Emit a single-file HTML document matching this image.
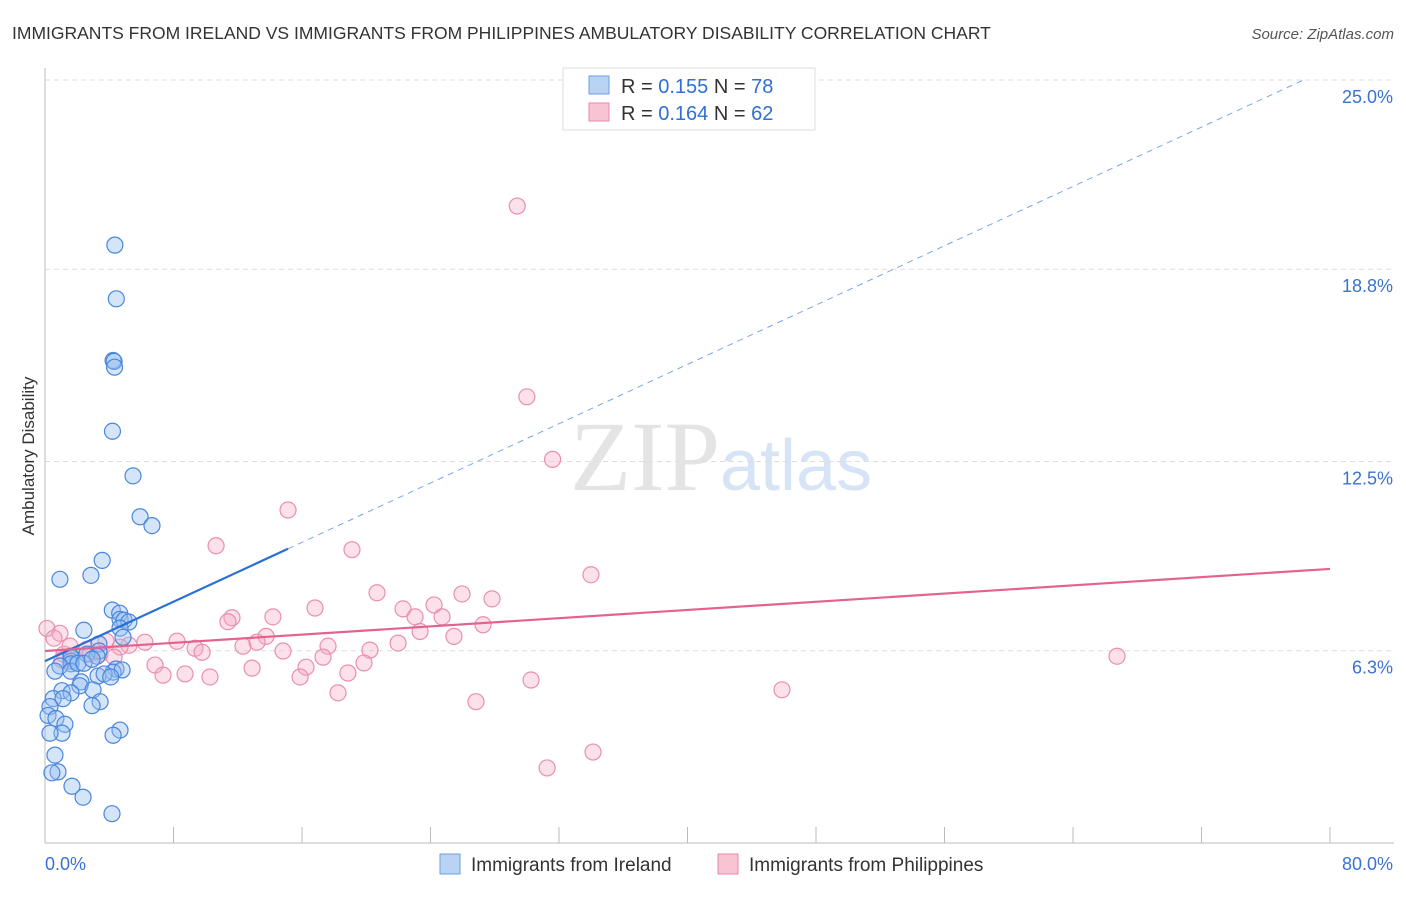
<!DOCTYPE html>
<html><head><meta charset="utf-8"><style>
body{margin:0;background:#fff;font-family:"Liberation Sans",sans-serif}
</style></head><body>
<svg id="c" width="1406" height="892" xmlns="http://www.w3.org/2000/svg">
<text x="12" y="39" font-size="17.5" fill="#333">IMMIGRANTS FROM IRELAND VS IMMIGRANTS FROM PHILIPPINES AMBULATORY DISABILITY CORRELATION CHART</text>
<text x="1394" y="39" font-size="15" fill="#555" font-style="italic" text-anchor="end">Source: ZipAtlas.com</text>
<text x="720" y="490" font-size="100" fill="#e4e4e4" text-anchor="end" font-family="Liberation Serif">ZIP</text>
<text x="720" y="490" font-size="72" fill="#d6e4f5">atlas</text>
<text transform="translate(34,456) rotate(-90)" font-size="17" fill="#333" text-anchor="middle">Ambulatory Disability</text>
<g id="grid"></g><g id="pts"></g><g id="lines"></g>
<g>
<rect x="563" y="68" width="252" height="62" fill="#fff" stroke="#ddd"/>
<rect x="589" y="76" width="20" height="18" fill="#b9d3f5" stroke="#6a9fe0"/>
<rect x="589" y="103" width="20" height="18" fill="#f8c3d3" stroke="#e88aa8"/>
<text x="621" y="93" font-size="20" fill="#333">R = <tspan fill="#2f6fd6">0.155</tspan>   N = <tspan fill="#2f6fd6">78</tspan></text>
<text x="621" y="120" font-size="20" fill="#333">R = <tspan fill="#2f6fd6">0.164</tspan>   N = <tspan fill="#2f6fd6">62</tspan></text>
</g>
<g>
<rect x="440" y="854" width="20" height="20" fill="#b9d3f5" stroke="#6a9fe0"/>
<text x="471" y="871" font-size="19" fill="#333">Immigrants from Ireland</text>
<rect x="718" y="854" width="20" height="20" fill="#f8c3d3" stroke="#e88aa8"/>
<text x="749" y="871" font-size="19" fill="#333">Immigrants from Philippines</text>
</g>
</svg>
<script>
const yTicks=[25.0,18.8,12.5,6.3];
const yTickLabels=["25.0%","18.8%","12.5%","6.3%"];
const xTickCount=10;
const blueX=[4.35,4.44,4.24,4.3,4.33,4.2,5.48,5.92,6.66,3.56,2.86,0.93,4.19,4.65,4.67,4.92,5.22,4.67,2.42,4.86,3.36,3.36,2.61,1.62,1.62,1.61,1.62,0.93,4.42,4.24,3.3,4.8,3.68,1.6,4.09,2.24,2.17,2.99,1.06,1.62,0.51,1.12,3.43,2.93,0.31,0.19,0.68,1.24,1.06,4.67,4.24,0.31,0.62,0.81,0.43,1.68,2.37,4.17,3.24,0.62,2.05,2.42,2.93];
const blueY=[19.59,17.83,15.81,15.78,15.59,13.49,12.03,10.69,10.4,9.26,8.77,8.64,7.63,7.53,7.33,7.3,7.24,7.04,6.97,6.74,6.52,6.29,6.19,6.06,5.96,6.12,5.87,5.8,5.7,5.6,5.47,5.67,5.54,5.63,5.44,5.28,5.15,5.02,4.99,4.92,4.73,4.73,4.63,4.5,4.47,4.18,4.08,3.89,3.6,3.7,3.53,3.6,2.88,2.33,2.3,1.86,1.5,0.96,6.12,5.63,5.89,5.89,6.02];
const pinkX=[29.4,30.0,31.6,15.13,10.65,19.11,33.99,0.12,0.93,1.18,20.67,24.22,25.96,27.83,22.29,24.72,16.81,11.64,14.19,23.04,27.27,23.35,11.39,13.76,25.46,21.98,17.62,12.33,13.2,8.22,6.22,5.23,4.67,3.8,2.61,3.42,9.34,9.78,14.82,20.23,17.31,19.86,16.25,12.89,6.85,8.72,7.35,10.27,15.88,18.86,30.26,18.24,26.83,45.88,66.74,34.12,31.26,1.56,2.8,4.3,1.06,0.56];
const pinkY=[20.87,14.62,12.57,10.91,9.74,9.61,8.79,7.03,6.87,6.19,8.2,7.8,8.16,8.0,7.67,7.41,7.7,7.38,7.41,7.41,7.15,6.93,7.25,6.77,6.77,6.55,6.45,6.45,6.58,6.61,6.58,6.48,6.42,6.61,6.35,6.19,6.38,6.25,6.29,6.32,6.09,5.9,5.76,5.73,5.83,5.54,5.5,5.44,5.44,5.57,5.34,4.92,4.63,5.02,6.12,2.98,2.46,6.45,6.19,6.09,6.0,6.71];
const blueTrend=[[0,5.96],[15.13,9.64]];
const blueDash=[[15.13,9.64],[80,25.4]];
const pinkTrend=[[0,6.29],[80,8.98]];
const L=45,R=1330,T=80,B=843;
const xs=v=>L+v/80*(R-L);
const ys=v=>T+(25-v)/25*(B-T);
const NS="http://www.w3.org/2000/svg";
const svg=document.getElementById('c');
function mk(tag,a,p){const e=document.createElementNS(NS,tag);for(const k in a)e.setAttribute(k,a[k]);(p||svg).appendChild(e);return e;}
const g=document.getElementById('grid');
yTicks.forEach((t,i)=>{
 const l=mk('line',{x1:L,x2:1394,y1:ys(t),y2:ys(t),stroke:'#ddd','stroke-dasharray':'5,4'},g);
 
 
 const tx=mk('text',{x:1393,y:ys(t)+23,'font-size':18,fill:'#3a72d3','text-anchor':'end'},g);
 tx.textContent=yTickLabels[i];
 
 
});
const ax=mk('line',{x1:L,x2:L,y1:68,y2:B,stroke:'#bbb'},g);


const bx=mk('line',{x1:L,x2:1394,y1:B,y2:B,stroke:'#bbb'},g);


for(let i=0;i<=xTickCount;i++){
 const x=xs(i*80/xTickCount);
 const t=mk('line',{x1:x,x2:x,y1:B-16,y2:B,stroke:'#bbb'},g);
 
 
}
const x0=mk('text',{x:45,y:870,'font-size':18,fill:'#3a72d3'},g);x0.textContent='0.0%';


const x1=mk('text',{x:1393,y:870,'font-size':18,fill:'#3a72d3','text-anchor':'end'},g);x1.textContent='80.0%';


const pg=document.getElementById('pts');
pinkX.forEach((v,i)=>{
 const c=mk('circle',{cx:xs(v),cy:ys(pinkY[i]),r:8,fill:'rgba(246,170,195,0.35)',stroke:'#e98fae','stroke-width':1.2},pg);
 
 
});
blueX.forEach((v,i)=>{
 const c=mk('circle',{cx:xs(v),cy:ys(blueY[i]),r:8,fill:'rgba(150,190,240,0.4)',stroke:'#4a86dc','stroke-width':1.2},pg);
 
 
});
const lg=document.getElementById('lines');
// clip dashed line at top of plot
const d0=blueDash[0],d1=blueDash[1];
const sl=(d1[1]-d0[1])/(d1[0]-d0[0]);
const xe=Math.min(d1[0],d0[0]+(25-d0[1])/sl);
const dl=mk('line',{x1:xs(d0[0]),y1:ys(d0[1]),x2:xs(xe),y2:ys(d0[1]+sl*(xe-d0[0])),stroke:'#7aa6e6','stroke-width':1,'stroke-dasharray':'6,5'},lg);


const bl=mk('line',{x1:xs(blueTrend[0][0]),y1:ys(blueTrend[0][1]),x2:xs(blueTrend[1][0]),y2:ys(blueTrend[1][1]),stroke:'#2a6fd6','stroke-width':2.2},lg);


const pl=mk('line',{x1:xs(pinkTrend[0][0]),y1:ys(pinkTrend[0][1]),x2:xs(pinkTrend[1][0]),y2:ys(pinkTrend[1][1]),stroke:'#e4638e','stroke-width':2.2},lg);


</script>
</body></html>
